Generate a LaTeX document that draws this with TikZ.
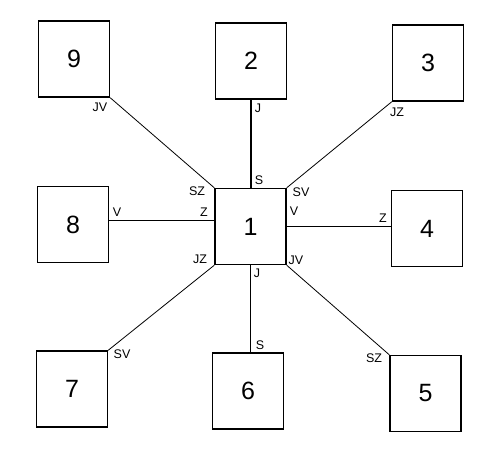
\documentclass[tikz,border=0pt]{standalone}
\usepackage{fontspec}
\setmainfont{Liberation Sans}
\begin{document}
\begin{tikzpicture}[x=1pt,y=-1pt,
  box/.style={draw,line width=1.5pt,minimum width=71pt,minimum height=76pt,inner sep=0pt,font=\fontsize{25}{25}\selectfont},
  conn/.style={line width=0.8pt},
  vconn/.style={line width=1.3pt},
  lab/.style={inner sep=0pt,font=\fontsize{12.5}{12.5}\selectfont}]
\useasboundingbox (0,0) rectangle (500,451);
\node[box] (n9) at (74,59) {9};
\node[box] (n2) at (251,61) {2};
\node[box] (n3) at (428,63) {3};
\node[box] (n8) at (73,224.5) {8};
\node[box] (n1) at (250.5,226.5) {1};
\node[box] (n4) at (427,228.5) {4};
\node[box] (n7) at (72,389) {7};
\node[box] (n6) at (248,391) {6};
\node[box] (n5) at (425.5,393.5) {5};
% connectors
\draw[conn] (n9.south east) -- (n1.north west);
\draw[vconn] (n2.south) -- (n2.south |- n1.north);
\draw[conn] (n3.south west) -- (n1.north east);
\draw[conn] ([yshift=4.5pt]n8.east) -- ([yshift=4.5pt]n8.east -| n1.west);
\draw[conn] (n1.east) -- (n1.east -| n4.west);
\draw[conn] (n1.south west) -- (n7.north east);
\draw[vconn] (n1.south) -- (n1.south |- n6.north);
\draw[conn] (n1.south east) -- (n5.north west);
% labels
\node[lab] (l9) at (100,107) {JV};
\node[lab] (l2) at (258,108) {J};
\node[lab] (l1s) at (259,180) {S};
\node[lab] (l3) at (397,112) {JZ};
\node[lab] (l1sz) at (197,191) {SZ};
\node[lab] (l1z) at (204,212) {Z};
\node[lab] (l8) at (117,212) {V};
\node[lab] (l1sv) at (301,192) {SV};
\node[lab] (l1v) at (294,211) {V};
\node[lab] (l4) at (383,218) {Z};
\node[lab] (l1jz) at (200,259) {JZ};
\node[lab] (l7) at (122,354) {SV};
\node[lab] (l1jv) at (296,260) {JV};
\node[lab] (l1j) at (257,273) {J};
\node[lab] (l6) at (260,345) {S};
\node[lab] (l5) at (374,358) {SZ};
\end{tikzpicture}
\end{document}
